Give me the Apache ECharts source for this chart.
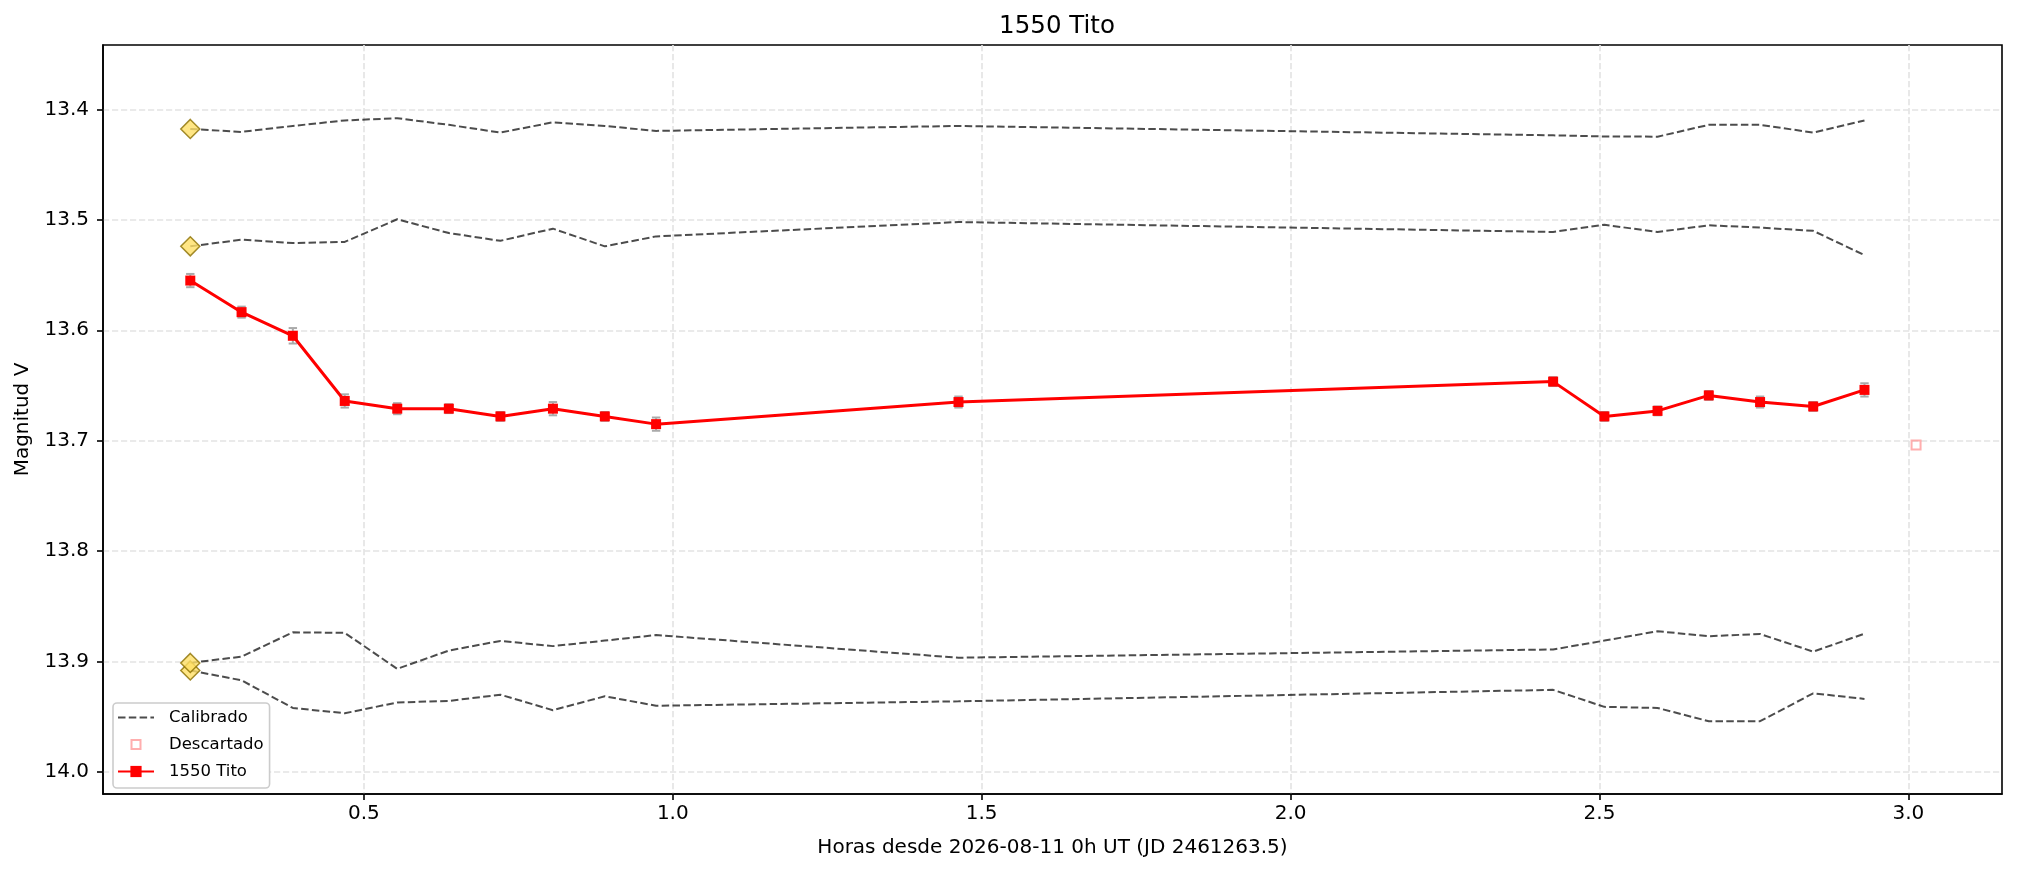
<!DOCTYPE html>
<html><head><meta charset="utf-8">
<script src="https://cdn.jsdelivr.net/npm/echarts@6/dist/echarts.min.js"></script>
<style>html,body{margin:0;padding:0;background:#fff}#c{width:2018px;height:873px}</style>
</head><body><div id="c"></div>
<script>
// ---- data ----
const hours = [0.219,0.302,0.385,0.469,0.554,0.6375,0.721,0.806,0.890,0.973,1.4625,2.425,2.508,2.594,2.677,2.760,2.846,2.929];
const titoMag = [13.555,13.5836,13.605,13.664,13.671,13.671,13.678,13.671,13.678,13.685,13.665,13.6465,13.678,13.673,13.659,13.665,13.669,13.654];
const titoErr = [0.006,0.005,0.007,0.006,0.005,0.004,0.004,0.006,0.004,0.006,0.005,0.004,0.004,0.004,0.004,0.005,0.004,0.006];
const calib1 = [13.4177,13.4204,13.415,13.410,13.408,13.414,13.421,13.4117,13.415,13.4195,13.415,13.4235,13.4245,13.4247,13.414,13.414,13.421,13.410];
const calib2 = [13.524,13.518,13.521,13.520,13.4995,13.512,13.519,13.508,13.524,13.515,13.502,13.511,13.5045,13.511,13.505,13.507,13.510,13.532];
const calib3 = [13.9012,13.8955,13.8735,13.874,13.9066,13.890,13.8813,13.886,13.881,13.876,13.8965,13.889,13.881,13.8725,13.877,13.875,13.891,13.8747];
const calib4 = [13.908,13.917,13.942,13.9468,13.937,13.9356,13.930,13.944,13.9314,13.940,13.936,13.9256,13.941,13.942,13.954,13.954,13.9287,13.9338];
const discardHours = [3.0125];
const discardMag = [13.704];
const xTicks = [0.5,1.0,1.5,2.0,2.5,3.0];
const yTicks = [13.4,13.5,13.6,13.7,13.8,13.9,14.0];

// ---- build ----
const FONT = 'DejaVu Sans';
const pairs = (xs, ys) => xs.map((x, i) => [x, ys[i]]);
const calibs = [calib1, calib2, calib4, calib3];

const calibSeries = calibs.map(c => ({
  name: 'Calibrado', type: 'line', data: pairs(hours, c),
  showSymbol: false, symbol: 'none', z: 2,
  lineStyle: {color: 'rgba(0,0,0,0.7)', width: 2, type: [7.5, 3.3]},
  itemStyle: {color: 'rgba(0,0,0,0.7)'}
}));

const firstPoints = calibs.map(c => [hours[0], c[0]]);

const chart = echarts.init(document.getElementById('c'), null, {renderer: 'canvas'});
chart.setOption({
  animation: false,
  backgroundColor: '#fff',
  title: {
    text: '1550 Tito', left: 1052, top: 9, textAlign: 'center',
    textStyle: {fontFamily: FONT, fontSize: 24.5, fontWeight: 'normal', color: '#000'}
  },
  grid: {left: 103, right: 16, top: 45, bottom: 79, show: true, borderColor: '#000', borderWidth: 1.6, outerBoundsMode: 'none', containLabel: false},
  legend: {
    left: 113, top: 703, orient: 'vertical',
    itemWidth: 36, itemHeight: 14, itemGap: 10,
    padding: [6, 6, 8, 4],
    backgroundColor: '#fff', borderColor: '#cccccc', borderWidth: 1.6, borderRadius: 4,
    textStyle: {fontFamily: FONT, fontSize: 16.5, color: '#000', padding: [0, 0, 0, 10]},
    data: [
      {name: 'Calibrado', itemStyle: {color: 'rgba(0,0,0,0)', borderWidth: 0, opacity: 0}},
      {name: 'Descartado', icon: 'path://M0,0M36,14M13.5,2.5h9v9h-9z', itemStyle: {color: '#fff', borderColor: '#ff9a9a', borderWidth: 2}},
      {name: '1550 Tito'}
    ]
  },
  xAxis: {
    type: 'value', min: 0.0777, max: 3.1516,
    name: 'Horas desde 2026-08-11 0h UT (JD 2461263.5)', nameLocation: 'middle', nameGap: 44,
    nameTextStyle: {fontFamily: FONT, fontSize: 20, color: '#000'},
    axisLine: {show: true, onZero: false, lineStyle: {color: '#000', width: 1.6}},
    axisTick: {show: true, inside: false, length: 6, customValues: xTicks, lineStyle: {color: '#000', width: 1.6}},
    axisLabel: {customValues: xTicks, margin: 10, fontFamily: FONT, fontSize: 20, color: '#000', formatter: v => v.toFixed(1)},
    splitLine: {show: true, lineStyle: {color: '#e4e4e4', width: 1.7, type: [6.2, 2.8]}}
  },
  yAxis: {
    type: 'value', inverse: true, min: 13.3417, max: 14.0199,
    name: 'Magnitud V', nameLocation: 'middle', nameGap: 70,
    nameTextStyle: {fontFamily: FONT, fontSize: 20, color: '#000'},
    axisLine: {show: true, onZero: false, lineStyle: {color: '#000', width: 1.6}},
    axisTick: {show: true, inside: false, length: 6, customValues: yTicks, lineStyle: {color: '#000', width: 1.6}},
    axisLabel: {customValues: yTicks, margin: 14, fontFamily: FONT, fontSize: 20, color: '#000', formatter: v => v.toFixed(1)},
    splitLine: {show: true, lineStyle: {color: '#e4e4e4', width: 1.7, type: [6.2, 2.8]}}
  },
  series: [
    ...calibSeries,
    {
      name: 'calibStart', type: 'scatter', data: firstPoints, symbol: 'diamond', symbolSize: 19, z: 4,
      itemStyle: {color: '#FFE066', borderColor: '#8B6F00', borderWidth: 1.5}
    },
    {
      name: 'Descartado', type: 'scatter', data: pairs(discardHours, discardMag), symbol: 'rect', symbolSize: 9, z: 3,
      itemStyle: {color: 'rgba(255,255,255,0)', borderColor: '#ff9a9a', borderWidth: 2}
    },
    {
      name: 'errbars', type: 'custom', z: 3,
      data: hours.map((h, i) => [h, titoMag[i] - titoErr[i], titoMag[i] + titoErr[i]]),
      encode: {x: 0, y: [1, 2]},
      renderItem: (params, api) => {
        const x = api.value(0);
        const p1 = api.coord([x, api.value(1)]);
        const p2 = api.coord([x, api.value(2)]);
        const cw = 4.2;
        const st = {stroke: '#aaaaaa', lineWidth: 2};
        return {type: 'group', children: [
          {type: 'line', shape: {x1: p1[0], y1: p1[1], x2: p2[0], y2: p2[1]}, style: st},
          {type: 'line', shape: {x1: p1[0] - cw, y1: p1[1], x2: p1[0] + cw, y2: p1[1]}, style: st},
          {type: 'line', shape: {x1: p2[0] - cw, y1: p2[1], x2: p2[0] + cw, y2: p2[1]}, style: st}
        ]};
      }
    },
    {
      name: '1550 Tito', type: 'line', data: pairs(hours, titoMag), z: 5,
      symbol: 'rect', symbolSize: 10, showSymbol: true,
      lineStyle: {color: '#ff0000', width: 3},
      itemStyle: {color: '#ff0000'}
    }
  ]
});
</script></body></html>
